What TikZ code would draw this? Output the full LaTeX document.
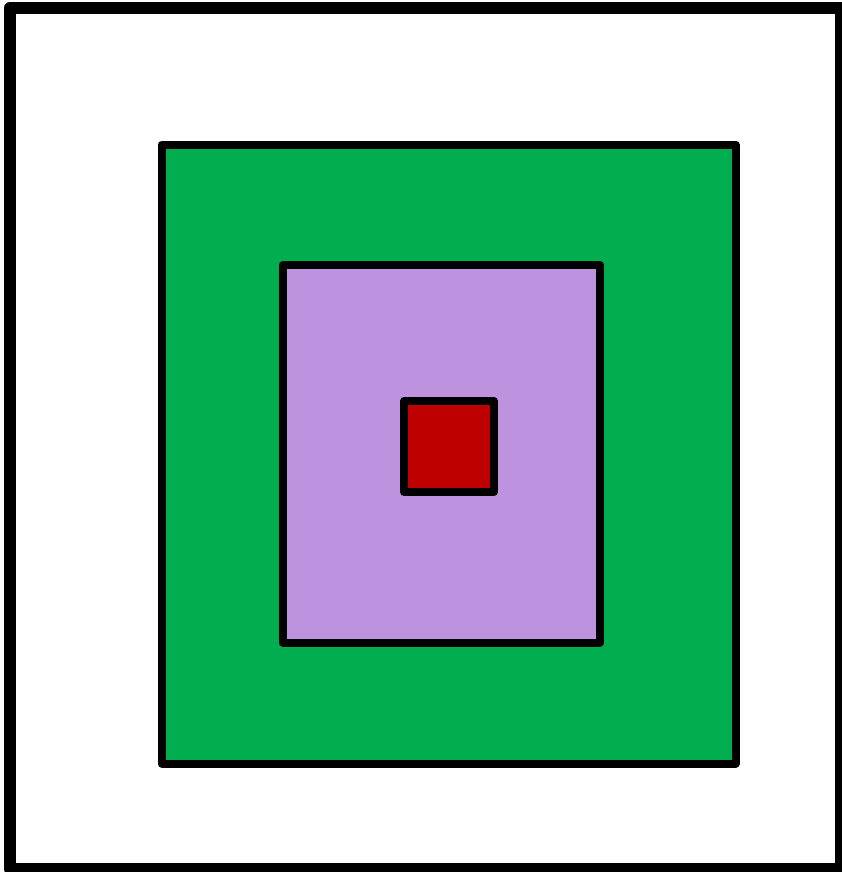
\documentclass[tikz,border=0pt]{standalone}
\definecolor{boxgreen}{HTML}{00AE50}
\definecolor{boxlilac}{HTML}{BD93E0}
\definecolor{boxred}{HTML}{BE0000}
\tikzset{
  frame/.style={draw=black,line width=8pt,line join=round}
}
\begin{document}
\begin{tikzpicture}[x=1pt,y=-1pt]
  \useasboundingbox (0,0) rectangle (842,872);
  \draw[frame,line width=12pt] (10,8) rectangle (841,869);
  \draw[frame,fill=boxgreen] (161.5,144.5) rectangle (735.5,763.5);
  \draw[frame,fill=boxlilac] (282.5,265) rectangle (600,642.5);
  \draw[frame,fill=boxred] (404,401) rectangle (494,492);
\end{tikzpicture}
\end{document}
